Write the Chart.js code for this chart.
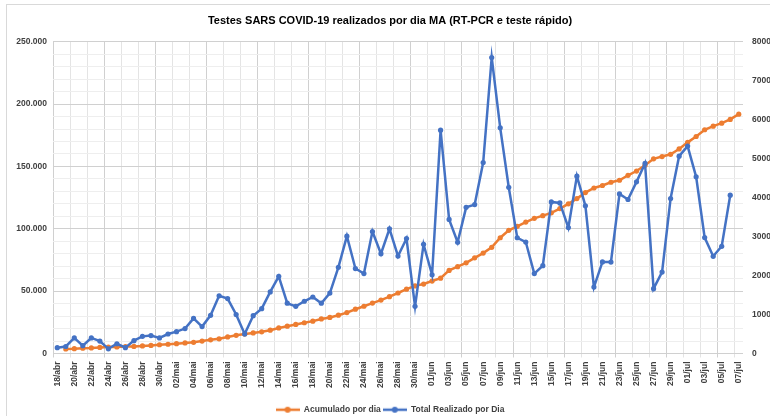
<!DOCTYPE html>
<html lang="pt-BR">
<head>
<meta charset="utf-8">
<title>Testes SARS COVID-19 MA</title>
<script src="https://cdn.jsdelivr.net/npm/chart.js"></script>
<style>
  html, body { margin: 0; padding: 0; background: #fff; }
  #grafico { display: block; }
</style>
</head>
<body>
<canvas id="grafico" width="770" height="416"></canvas>
<script>
// categorias (um ponto por dia)
const datas = [
  '18/abr','19/abr','20/abr','21/abr','22/abr','23/abr','24/abr','25/abr','26/abr','27/abr','28/abr','29/abr','30/abr',
  '01/mai','02/mai','03/mai','04/mai','05/mai','06/mai','07/mai','08/mai','09/mai','10/mai',
  '11/mai','12/mai','13/mai','14/mai','15/mai','16/mai','17/mai','18/mai','19/mai','20/mai',
  '21/mai','22/mai','23/mai','24/mai','25/mai','26/mai','27/mai','28/mai','29/mai','30/mai','31/mai',
  '01/jun','02/jun','03/jun','04/jun','05/jun','06/jun','07/jun','08/jun','09/jun','10/jun',
  '11/jun','12/jun','13/jun','14/jun','15/jun','16/jun','17/jun','18/jun','19/jun','20/jun',
  '21/jun','22/jun','23/jun','24/jun','25/jun','26/jun','27/jun','28/jun','29/jun','30/jun',
  '01/jul','02/jul','03/jul','04/jul','05/jul','06/jul','07/jul'
];

// testes realizados por dia (eixo direito)
const totalDia = [
  150, 180, 400, 200, 400, 320, 120, 250, 150, 330,
  440, 460, 400, 500, 560, 640, 900, 690, 980, 1480,
  1410, 1000, 500, 970, 1150, 1580, 1980, 1290, 1210, 1340,
  1450, 1290, 1550, 2210, 3010, 2180, 2050, 3130, 2560, 3200,
  2500, 2950, 1210, 2800, 2020, 5730, 3440, 2855, 3750, 3820,
  4900, 7595, 5790, 4265, 2970, 2860, 2050, 2254, 3890, 3864,
  3230, 4550, 3790, 1704, 2350, 2347, 4095, 3951, 4404, 4877,
  1663, 2090, 3977, 5064, 5321, 4532, 2974, 2494, 2751, 4062,
  null
];

// acumulado (eixo esquerdo)
const acumulado = [
  null, 3700, 3900, 4300, 4500, 4900, 5200, 5300, 5600, 5700,
  6100, 6500, 7000, 7400, 7900, 8500, 9000, 10000, 11000, 11800,
  13300, 14600, 15700, 16500, 17400, 18700, 20500, 21900, 23300, 24650,
  25950, 27700, 28900, 30700, 32800, 35500, 37900, 40400, 42800, 45600,
  48500, 51600, 54200, 55700, 58100, 60400, 66600, 69600, 72700, 76700,
  80500, 85100, 92800, 98800, 102000, 105400, 108400, 110500, 112800, 116200,
  120000, 124200, 129000, 132700, 134700, 137300, 138900, 142900, 146300, 151000,
  156100, 157900, 159700, 164000, 169300, 174000, 179400, 182300, 184700, 187700,
  191900
];

// limites dos eixos
const eixoEsq = { max: 250000, passo: 10000, rotulo: 50000 };
const eixoDir = { max: 8000, passo: 1000 };

const AZUL = '#4472C4';
const LARANJA = '#ED7D31';

Chart.defaults.font.family = "'Liberation Sans', Arial, sans-serif";
Chart.defaults.color = '#404040';

// 250000 -> 250.000
function milhar(v) {
  return String(v).replace(/\B(?=(\d{3})+(?!\d))/g, '.');
}

// marcador da legenda: linha com bolinha
function marcadorLegenda(cor) {
  const c = document.createElement('canvas');
  c.width = 24; c.height = 8;
  const g = c.getContext('2d');
  g.strokeStyle = cor; g.lineWidth = 2.5;
  g.beginPath(); g.moveTo(0, 4); g.lineTo(24, 4); g.stroke();
  g.fillStyle = cor;
  g.beginPath(); g.arc(12, 4, 3, 0, Math.PI * 2); g.fill();
  return c;
}
const marcadores = [marcadorLegenda(AZUL), marcadorLegenda(LARANJA)];

// moldura cinza em volta do gráfico
const moldura = {
  id: 'moldura',
  beforeDraw(chart) {
    const ctx = chart.ctx;
    ctx.save();
    ctx.fillStyle = '#fff';
    ctx.fillRect(0, 0, chart.width, chart.height);
    ctx.strokeStyle = '#d9d9d9';
    ctx.lineWidth = 1;
    ctx.strokeRect(6.5, 4.5, chart.width, chart.height);
    ctx.restore();
  }
};

new Chart(document.getElementById('grafico'), {
  type: 'line',
  data: {
    labels: datas,
    datasets: [{
      label: 'Total Realizado por Dia',
      data: totalDia,
      yAxisID: 'y2',
      borderColor: AZUL,
      backgroundColor: AZUL,
      borderWidth: 2.5,
      pointRadius: 2.6,
      pointBorderWidth: 0,
      tension: 0
    }, {
      label: 'Acumulado por dia',
      data: acumulado,
      yAxisID: 'y',
      borderColor: LARANJA,
      backgroundColor: LARANJA,
      borderWidth: 2.5,
      pointRadius: 2.6,
      pointBorderWidth: 0,
      tension: 0
    }]
  },
  options: {
    responsive: false,
    animation: false,
    layout: { padding: { top: 4, left: 10, right: 0, bottom: -8 } },
    plugins: {
      title: {
        display: true,
        text: 'Testes SARS COVID-19 realizados por dia MA (RT-PCR e teste rápido)',
        color: '#000',
        font: { size: 11, weight: 'bold' },
        padding: { top: 10, bottom: 14.5 }
      },
      legend: {
        position: 'bottom',
        labels: {
          usePointStyle: true,
          pointStyleWidth: 24,
          padding: 2,
          color: '#404040',
          font: { size: 8.5, weight: 'bold' },
          sort: (a, b) => b.datasetIndex - a.datasetIndex,
          generateLabels(chart) {
            const itens = Chart.defaults.plugins.legend.labels.generateLabels(chart);
            itens.forEach(it => { it.pointStyle = marcadores[it.datasetIndex]; });
            return itens;
          }
        }
      },
      tooltip: { enabled: false }
    },
    scales: {
      x: {
        offset: true,
        border: { display: false },
        grid: {
          offset: true,
          tickLength: 4,
          color: ctx => {
            if (ctx.index === undefined) return 'rgba(0,0,0,0)';
            if (ctx.index % 6 === 0) return '#d0d0d0';
            if (ctx.index % 2 === 0) return '#e4e4e4';
            return 'rgba(0,0,0,0)';
          }
        },
        ticks: {
          autoSkip: false,
          minRotation: 90,
          maxRotation: 90,
          padding: 4,
          color: '#404040',
          font: { size: 8.5, weight: 'bold' },
          callback: (v, i) => (i % 2 === 0 ? datas[i] : '')
        },
        afterFit: s => { s.height = 50; }
      },
      y: {
        position: 'left',
        min: 0,
        max: eixoEsq.max,
        border: { display: false },
        grid: {
          drawTicks: false,
          color: ctx => (ctx.tick && ctx.tick.value % eixoEsq.rotulo === 0 ? '#d0d0d0' : '#eeeeee')
        },
        ticks: {
          stepSize: eixoEsq.passo,
          autoSkip: false,
          maxTicksLimit: 100,
          padding: 6,
          color: '#404040',
          font: { size: 8.5, weight: 'bold' },
          callback: v => (v % eixoEsq.rotulo === 0 ? milhar(v) : '')
        },
        afterFit: s => { s.width = 43; }
      },
      y2: {
        position: 'right',
        min: 0,
        max: eixoDir.max,
        border: { display: false },
        grid: { drawOnChartArea: false, drawTicks: false },
        ticks: {
          stepSize: eixoDir.passo,
          padding: 9,
          color: '#404040',
          font: { size: 8.5, weight: 'bold' },
          callback: v => String(v)
        },
        afterFit: s => { s.width = 27; }
      }
    }
  },
  plugins: [moldura]
});
</script>
</body>
</html>
